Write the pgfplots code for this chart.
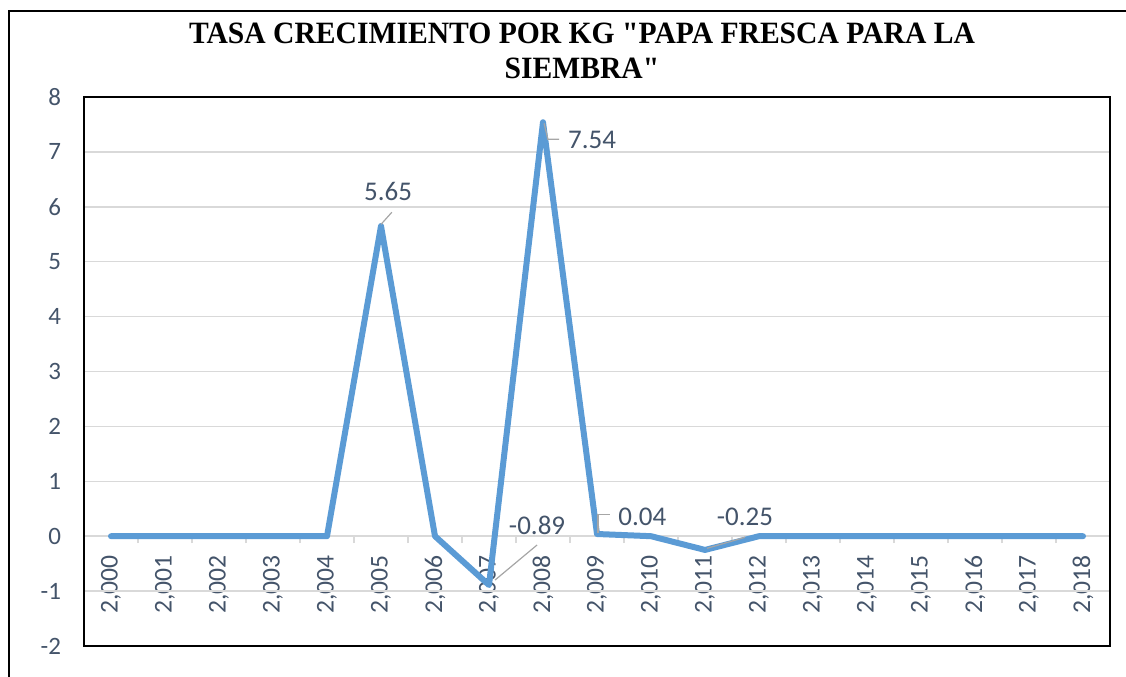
\documentclass[border=0pt]{standalone}
\usepackage{pgfplots}
\pgfplotsset{compat=1.18}
\usepackage{fontspec}
\setmainfont{Carlito}
\newfontfamily\titlefont{Liberation Serif}
\definecolor{lineblue}{HTML}{5B9BD5}
\definecolor{slate}{HTML}{44546A}
\definecolor{gridgray}{HTML}{D9D9D9}
\definecolor{leader}{HTML}{A6A6A6}
\pgfplotstableread{
x y
0 0
1 0
2 0
3 0
4 0
5 5.65
6 0
7 -0.89
8 7.54
9 0.04
10 0
11 -0.25
12 0
13 0
14 0
15 0
16 0
17 0
18 0
}\datatable
\pgfplotsset{base/.style={
  at={(42pt,15pt)}, anchor=south west,
  scale only axis, width=513pt, height=274.5pt,
  xmin=-0.5, xmax=18.5, ymin=-2, ymax=8, clip=false}}
\begin{document}
\begin{tikzpicture}[x=0.5pt,y=0.5pt]
\useasboundingbox (0,0) rectangle (1126,676);
\draw[black, line width=1.2pt] (9,-20) -- (9,665) -- (1140,665);
\node[anchor=base, xscale=0.955, font=\titlefont\bfseries\fontsize{15.5}{17}\selectfont] at (582,632) {TASA CRECIMIENTO POR KG "PAPA FRESCA PARA LA};
\node[anchor=base, xscale=0.955, font=\titlefont\bfseries\fontsize{15.5}{17}\selectfont] at (582,597) {SIEMBRA"};
% tick marks between categories on the zero line
\begin{axis}[base,
  axis x line=middle, axis y line=none,
  axis line style={-, draw=gridgray, line width=0.75pt},
  xtick={-0.5,0.5,...,18.5}, xticklabels={},
  major tick length=3.5pt, tick align=outside,
  tick style={draw=gridgray, line width=0.75pt},
  ytick=\empty,
]
\end{axis}
% category labels
\begin{axis}[base,
  axis x line=middle, axis y line=none,
  axis line style={draw=none},
  xtick={0,...,18},
  xticklabels={{2{,}000},{2{,}001},{2{,}002},{2{,}003},{2{,}004},{2{,}005},{2{,}006},{2{,}007},{2{,}008},{2{,}009},{2{,}010},{2{,}011},{2{,}012},{2{,}013},{2{,}014},{2{,}015},{2{,}016},{2{,}017},{2{,}018}},
  major tick length=0pt,
  tick style={draw=none},
  xticklabel style={yshift=-6pt, rotate=90, anchor=east, font=\fontsize{12.8}{14}\selectfont, text=slate},
  ytick=\empty,
]
\end{axis}
\begin{axis}[base,
  axis line style={draw=black, line width=1pt},
  xtick=\empty,
  ytick={-2,-1,...,8},
  ymajorgrids,
  grid style={draw=gridgray, line width=0.75pt},
  major tick length=0pt,
  yticklabel style={font=\fontsize{12.5}{14}\selectfont, text=slate, xshift=-8pt},
  /pgf/number format/assume math mode=true,
]
\addplot[lineblue, line width=3pt, line cap=round, line join=round] table[x=x,y=y] {\datatable};
\draw[leader, line width=0.6pt] (axis cs:5.20,5.90) -- (axis cs:5.0,5.68);
\draw[leader, line width=0.6pt] (axis cs:8.02,7.52) -- (axis cs:8.09,7.23) -- (axis cs:8.30,7.23);
\draw[leader, line width=0.6pt] (axis cs:7.89,-0.16) -- (axis cs:7.11,-0.80);
\draw[leader, line width=0.6pt] (axis cs:9.02,0.05) -- (axis cs:9.02,0.40) -- (axis cs:9.24,0.40);
\draw[leader, line width=0.6pt] (axis cs:11.04,-0.22) -- (axis cs:11.74,-0.02);
\begin{scope}[every node/.style={font=\fontsize{13.5}{15}\selectfont, text=slate, inner sep=0pt}]
\node[anchor=center] at (axis cs:5.13,6.27) {5.65};
\node[anchor=west] at (axis cs:8.46,7.21) {7.54};
\node[anchor=center] at (axis cs:7.89,0.20) {-0.89};
\node[anchor=west] at (axis cs:9.39,0.36) {0.04};
\node[anchor=center] at (axis cs:11.74,0.35) {-0.25};
\end{scope}
\end{axis}
\end{tikzpicture}
\end{document}
